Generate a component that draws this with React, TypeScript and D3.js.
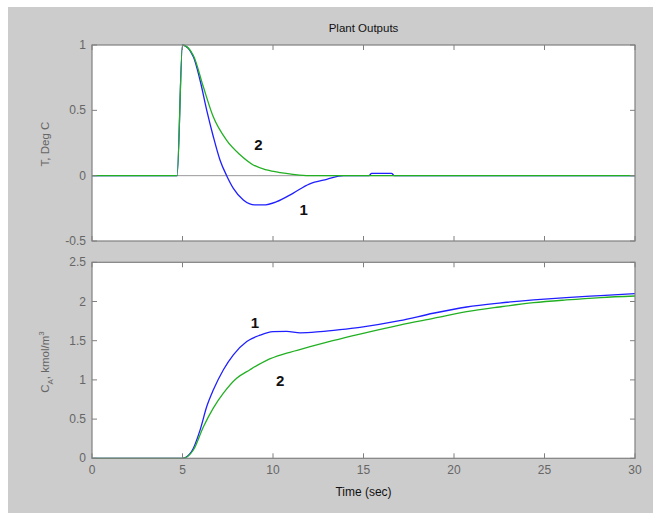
import React from "react";
import * as d3 from "d3";

const tTicks = [0, 5, 10, 15, 20, 25, 30];
const tempTicks = [-0.5, 0, 0.5, 1];
const concTicks = [0, 0.5, 1, 1.5, 2, 2.5];

// Top plot: temperature deviation (T, Deg C)
const temp1: [number, number][] = [
  [0, 0], [4.7, 0], [5.0, 1.0], [5.6, 0.91], [5.97, 0.73], [6.34, 0.5], [6.7, 0.3],
  [7.07, 0.12], [7.44, 0], [7.81, -0.097], [8.36, -0.186], [9.0, -0.224], [9.47, -0.224],
  [10.2, -0.199], [11.1, -0.135], [12.0, -0.064], [12.97, -0.028], [13.9, 0], [15.3, 0.0],
  [15.45, 0.018], [16.55, 0.018], [16.7, 0], [30, 0],
];
const temp2: [number, number][] = [
  [0, 0], [4.7, 0], [5.0, 1.0], [5.6, 0.92], [6.15, 0.68], [6.7, 0.45], [7.44, 0.27],
  [8.18, 0.16], [8.91, 0.082], [9.65, 0.044], [10.4, 0.023], [11.1, 0.01], [12.0, 0], [30, 0],
];

// Bottom plot: concentration C_A
const conc1: [number, number][] = [
  [0, 0], [5.0, 0], [5.5, 0.085], [5.97, 0.36], [6.34, 0.66], [6.7, 0.87], [7.26, 1.13],
  [7.81, 1.32], [8.55, 1.49], [9.28, 1.57], [10.0, 1.615], [10.76, 1.62], [11.5, 1.6],
  [12.6, 1.615], [13.7, 1.64], [14.8, 1.67], [17.0, 1.755], [18.85, 1.85], [20.7, 1.93],
  [22.5, 1.98], [24.4, 2.02], [26.2, 2.05], [28.1, 2.075], [30, 2.1],
];
const conc2: [number, number][] = [
  [0, 0], [5.0, 0], [5.6, 0.106], [6.15, 0.4], [6.7, 0.64], [7.26, 0.83], [7.99, 1.02],
  [8.73, 1.13], [9.65, 1.25], [10.76, 1.34], [12.0, 1.42], [13.3, 1.5], [14.8, 1.585],
  [17.0, 1.7], [18.85, 1.785], [20.7, 1.87], [22.5, 1.93], [24.4, 1.985], [26.2, 2.02],
  [28.1, 2.05], [30, 2.07],
];

const W = 653;
const H = 513;
const L = 92;
const R = 635;
const FONT = "'Liberation Sans', Arial, sans-serif";

function Panel({ top, bottom, domain, yTicks, series, labels, showX, zeroLine }: any) {
  const x = d3.scaleLinear().domain([0, 30]).range([L, R]);
  const y = d3.scaleLinear().domain(domain).range([bottom, top]);
  const line = d3
    .line<[number, number]>()
    .x((d) => x(d[0]))
    .y((d) => y(d[1]))
    .curve(d3.curveMonotoneX);
  const tl = 5;
  return (
    <g>
      <rect x={L} y={top} width={R - L} height={bottom - top} fill="#fff" />
      {zeroLine && (
        <line x1={L} x2={R} y1={y(0)} y2={y(0)} stroke="#999" strokeWidth={1} />
      )}
      {series.map((s: any, i: number) => (
        <path key={i} d={line(s.data) || ""} fill="none" stroke={s.color} strokeWidth={1.3} />
      ))}
      <rect x={L} y={top} width={R - L} height={bottom - top} fill="none" stroke="#808080" strokeWidth={1.2} />
      {tTicks.map((t) => (
        <g key={"x" + t}>
          <line x1={x(t)} x2={x(t)} y1={bottom} y2={bottom - tl} stroke="#808080" />
          <line x1={x(t)} x2={x(t)} y1={top} y2={top + tl} stroke="#808080" />
          {showX && (
            <text x={x(t)} y={bottom + 16} textAnchor="middle" fontSize={12} fill="#666" fontFamily={FONT}>
              {t}
            </text>
          )}
        </g>
      ))}
      {yTicks.map((v: number) => (
        <g key={"y" + v}>
          <line x1={L} x2={L + tl} y1={y(v)} y2={y(v)} stroke="#808080" />
          <line x1={R} x2={R - tl} y1={y(v)} y2={y(v)} stroke="#808080" />
          <text x={L - 6} y={y(v) + 4} textAnchor="end" fontSize={12} fill="#666" fontFamily={FONT}>
            {v}
          </text>
        </g>
      ))}
      {labels.map((lb: any, i: number) => (
        <text key={"l" + i} x={x(lb.t)} y={y(lb.v)} textAnchor="middle" fontSize={15} fontWeight="bold" fill="#111" fontFamily={FONT}>
          {lb.text}
        </text>
      ))}
    </g>
  );
}

export default function App() {
  return (
    <svg width={W} height={H} style={{ position: "absolute", left: 0, top: 0 }}>
      <rect x={0} y={0} width={W} height={H} fill="#fff" />
      <rect x={8} y={7} width={W - 8} height={H - 7} fill="#cccccc" />
      <text x={(L + R) / 2} y={32} textAnchor="middle" fontSize={11.5} fill="#111" fontFamily={FONT}>
        Plant Outputs
      </text>
      <Panel
        top={45}
        bottom={241}
        domain={[-0.5, 1]}
        yTicks={tempTicks}
        zeroLine={true}
        showX={false}
        series={[
          { data: temp1, color: "#1f1fff" },
          { data: temp2, color: "#22b022" },
        ]}
        labels={[
          { t: 9.2, v: 0.2, text: "2" },
          { t: 11.7, v: -0.3, text: "1" },
        ]}
      />
      <Panel
        top={262.3}
        bottom={458.3}
        domain={[0, 2.5]}
        yTicks={concTicks}
        zeroLine={false}
        showX={true}
        series={[
          { data: conc1, color: "#1f1fff" },
          { data: conc2, color: "#22b022" },
        ]}
        labels={[
          { t: 9.0, v: 1.66, text: "1" },
          { t: 10.4, v: 0.92, text: "2" },
        ]}
      />
      <text transform="translate(49,144) rotate(-90)" textAnchor="middle" fontSize={11.5} fill="#666" fontFamily={FONT}>
        T, Deg C
      </text>
      <text transform="translate(49,362) rotate(-90)" textAnchor="middle" fontSize={11.5} fill="#666" fontFamily={FONT}>
        C<tspan dy={4} fontSize={8}>A</tspan>
        <tspan dy={-4}>, kmol/m</tspan>
        <tspan dy={-5} fontSize={8}>3</tspan>
      </text>
      <text x={(L + R) / 2} y={496} textAnchor="middle" fontSize={12} fill="#111" fontFamily={FONT}>
        Time (sec)
      </text>
    </svg>
  );
}
